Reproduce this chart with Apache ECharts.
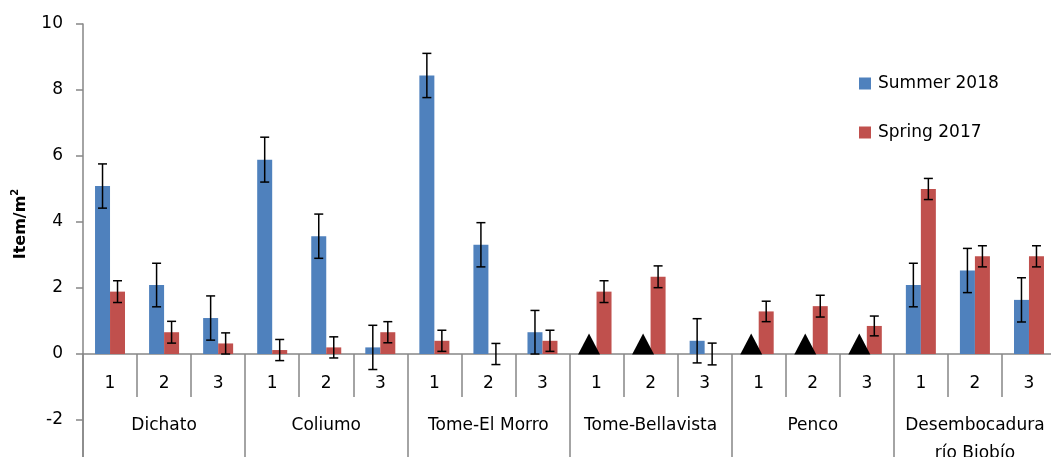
<!DOCTYPE html>
<html>
<head>
<meta charset="utf-8">
<script src="https://cdn.jsdelivr.net/npm/echarts@6/dist/echarts.min.js"></script>
<style>
html,body{margin:0;padding:0;background:#fff;}
#chart{width:1051px;height:457px;}
</style>
</head>
<body>
<div id="chart"></div>
<script>
// ---- data ----
var groups = ['Dichato', 'Coliumo', 'Tome-El Morro', 'Tome-Bellavista', 'Penco', 'Desembocadura\nrío Biobío'];
var stations = ['1', '2', '3'];
var seriesNames = ['Summer 2018', 'Spring 2017'];
var summer    = [5.09, 2.09, 1.09, 5.89, 3.57, 0.20, 8.44, 3.31, 0.66, null, null, 0.40, null, null, null, 2.09, 2.53, 1.64];
var summerErr = [0.67, 0.66, 0.67, 0.68, 0.67, 0.67, 0.67, 0.67, 0.66, null, null, 0.67, null, null, null, 0.66, 0.67, 0.67];
var spring    = [1.89, 0.66, 0.32, 0.12, 0.20, 0.66, 0.40, 0.00, 0.40, 1.89, 2.34, 0.00, 1.29, 1.45, 0.85, 5.00, 2.96, 2.96];
var springErr = [0.33, 0.33, 0.32, 0.32, 0.32, 0.32, 0.32, 0.32, 0.32, 0.33, 0.33, 0.33, 0.31, 0.33, 0.30, 0.32, 0.32, 0.32];
// summer samples with no detection (marked by a triangle at 0)
var summerNotDetected = [null, null, null, null, null, null, null, null, null, 0, 0, null, 0, 0, 0, null, null, null];
var yTicksPos = [0, 2, 4, 6, 8, 10];
var yTicksNeg = [-4, -2, 0];

// ---- build ----
var categories = [];
groups.forEach(function () { stations.forEach(function (s) { categories.push(s); }); });

var BLUE = '#4F81BD', RED = '#C0504D', AXIS = '#868686', FONT = 'DejaVu Sans';
var BAR_W = 15;

function errData(vals, errs) {
  var out = [];
  vals.forEach(function (v, i) { if (v != null && errs[i] != null) out.push([i, v, errs[i]]); });
  return out;
}
function errSeries(vals, errs, side) {
  return {
    type: 'custom', xAxisIndex: 0, yAxisIndex: 0, z: 5, silent: true, clip: false,
    encode: { x: 0, y: 1 },
    data: errData(vals, errs),
    renderItem: function (params, api) {
      var i = api.value(0), v = api.value(1), e = api.value(2);
      var top = api.coord([i, v + e]);
      var bot = api.coord([i, v - e]);
      var x = top[0] + side * BAR_W / 2;
      var cap = 4.5;
      var st = { stroke: '#000', lineWidth: 1.5 };
      return {
        type: 'group',
        children: [
          { type: 'line', shape: { x1: x, y1: top[1], x2: x, y2: bot[1] }, style: st },
          { type: 'line', shape: { x1: x - cap, y1: top[1], x2: x + cap, y2: top[1] }, style: st },
          { type: 'line', shape: { x1: x - cap, y1: bot[1], x2: x + cap, y2: bot[1] }, style: st }
        ]
      };
    }
  };
}

var axisLineStyle = { color: AXIS, width: 1.5 };
var labelStyle = { fontFamily: FONT, fontSize: 17, color: '#000' };

var chart = echarts.init(document.getElementById('chart'), null, { renderer: 'canvas' });
var option = {
  animation: false,
  backgroundColor: '#fff',
  textStyle: { fontFamily: FONT },
  grid: [
    { left: 83, right: -5, top: 24, bottom: 103, containLabel: false, outerBoundsMode: 'none' },
    { left: 83, right: -5, top: 354, bottom: -28, containLabel: false, outerBoundsMode: 'none' }
  ],
  legend: {
    data: seriesNames, orient: 'vertical', left: 854, top: 70,
    itemWidth: 12, itemHeight: 12, itemGap: 32, icon: 'rect',
    textStyle: { fontFamily: FONT, fontSize: 17, color: '#000', padding: [0, 0, 0, 2] }
  },
  xAxis: [
    {
      gridIndex: 0, type: 'category', data: categories, boundaryGap: true, position: 'bottom',
      axisLine: { onZero: false, lineStyle: axisLineStyle },
      axisTick: { show: true, interval: 0, length: 43, lineStyle: axisLineStyle },
      axisLabel: Object.assign({ interval: 0, margin: 21 }, labelStyle),
      splitLine: { show: false }
    },
    {
      gridIndex: 0, type: 'category', data: groups, boundaryGap: true, position: 'bottom',
      axisLine: { show: false, onZero: false },
      axisTick: { show: true, interval: 0, length: 110, lineStyle: axisLineStyle },
      axisLabel: Object.assign({ interval: 0, margin: 58, lineHeight: 28 }, labelStyle),
      splitLine: { show: false }
    },
    {
      gridIndex: 1, type: 'category', data: categories, show: false
    }
  ],
  yAxis: [
    {
      gridIndex: 0, type: 'value', min: yTicksPos[0], max: yTicksPos[yTicksPos.length - 1], interval: 2,
      axisLine: { show: true, onZero: false, lineStyle: axisLineStyle },
      axisTick: { show: true, length: 7, lineStyle: axisLineStyle },
      axisLabel: Object.assign({ margin: 20 }, labelStyle),
      splitLine: { show: false }
    },
    {
      gridIndex: 1, type: 'value', min: yTicksNeg[0], max: yTicksNeg[yTicksNeg.length - 1], interval: 2,
      axisLine: { show: true, onZero: false, lineStyle: axisLineStyle },
      axisTick: { show: true, length: 7, lineStyle: axisLineStyle },
      axisLabel: Object.assign({ margin: 20, showMaxLabel: false }, labelStyle),
      splitLine: { show: false }
    }
  ],
  graphic: [{
    type: 'text', x: 21, y: 224, rotation: Math.PI / 2,
    style: {
      text: '{a|Item/m}{s|2}', align: 'center', verticalAlign: 'middle',
      rich: {
        a: { fontFamily: FONT, fontSize: 16, fontWeight: 'bold', fill: '#000', lineHeight: 22 },
        s: { fontFamily: FONT, fontSize: 10, fontWeight: 'bold', fill: '#000', verticalAlign: 'top', lineHeight: 22 }
      }
    }
  }],
  series: [
    { name: seriesNames[0], type: 'bar', data: summer, barWidth: BAR_W, barGap: '0%', itemStyle: { color: BLUE }, xAxisIndex: 0, yAxisIndex: 0 },
    { name: seriesNames[1], type: 'bar', data: spring, barWidth: BAR_W, barGap: '0%', itemStyle: { color: RED }, xAxisIndex: 0, yAxisIndex: 0 },
    errSeries(summer, summerErr, -1),
    errSeries(spring, springErr, 1),
    {
      type: 'scatter', xAxisIndex: 0, yAxisIndex: 0, data: summerNotDetected, symbol: 'triangle', clip: false,
      symbolSize: [22, 21], symbolOffset: [-BAR_W / 2, -10], itemStyle: { color: '#000', opacity: 1 }, z: 6, silent: true
    }
  ]
};
chart.setOption(option);
</script>
</body>
</html>
